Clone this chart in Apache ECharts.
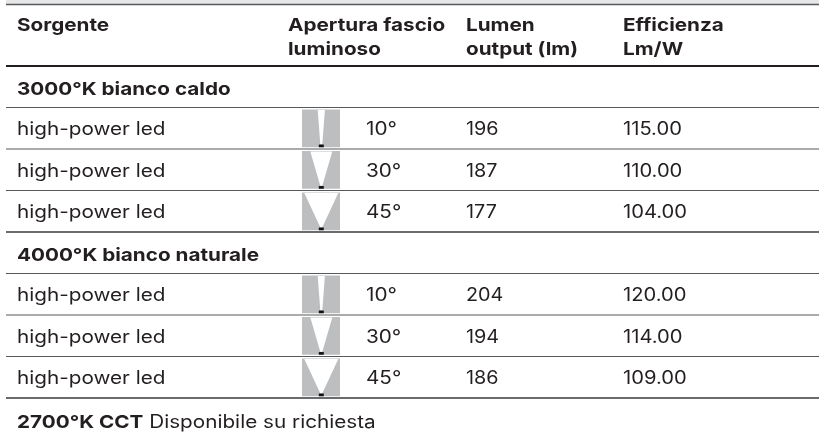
<!DOCTYPE html>
<html><head><meta charset="utf-8">
<style>html,body{margin:0;padding:0;background:#fff}#c{width:819px;height:436px}</style>
<script src="https://cdn.jsdelivr.net/npm/echarts@6/dist/echarts.min.js"></script>
</head><body><div id="c"></div>
<script>
const rowLabels = ['3000°K bianco caldo','high-power led','high-power led','high-power led','4000°K bianco naturale','high-power led','high-power led','high-power led'];
const beamAngles = [null,10,30,45,null,10,30,45];
const lumen = [null,196,187,177,null,204,194,186];
const efficiency = [null,'115.00','110.00','104.00',null,'120.00','114.00','109.00'];
const headers = [['Sorgente'],['Apertura fascio','luminoso'],['Lumen','output (lm)'],['Efficienza','Lm/W']];
const footBold = '2700°K CCT';
const footText = ' Disponibile su richiesta';

const FONT = 'Inter, "DejaVu Sans", sans-serif';
const TEXT = '#231f20';
const colX = {name:17, icon:321.3, angle:366, lumen:466, eff:623};
const FS = 18, SX = 1.15;
const chart = echarts.init(document.getElementById('c'));
const idx = rowLabels.map((_,i)=>i);
function txt(x,y,s,bold,sx){return {type:'text',x:x,y:y,scaleX:sx||SX,style:{x:0,y:0,text:s,fill:TEXT,font:(bold?'700 ':'400 ')+FS+'px '+FONT,textVerticalAlign:'middle',verticalAlign:'middle'}};}
const option = {
  animation:false,
  backgroundColor:'#fff',
  grid:{left:0,right:0,top:66,height:332},
  xAxis:{type:'value',min:0,max:819,show:false},
  yAxis:{type:'category',inverse:true,data:idx,show:false},
  graphic:[
    {type:'rect',shape:{x:6,y:0,width:813,height:4},style:{fill:'#e6e7e8'}},
    {type:'line',shape:{x1:6,y1:4.5,x2:819,y2:4.5},style:{stroke:'#58595b',lineWidth:1.4}},
    {type:'line',shape:{x1:6,y1:66,x2:819,y2:66},style:{stroke:TEXT,lineWidth:2}},
    ...headers.flatMap((h,i)=>h.map((s,j)=>txt([colX.name,288,466,623][i],25.7+j*24,s,true))),
    {type:'text',x:colX.name,y:422.5,scaleX:SX,style:{x:0,y:0,text:'{b|'+footBold+'}{r|'+footText+'}',rich:{b:{font:'700 '+FS+'px '+FONT,fill:TEXT},r:{font:'400 '+FS+'px '+FONT,fill:TEXT}},verticalAlign:'middle'}}
  ],
  series:[{
    type:'custom',
    silent:true,
    clip:false,
    data:idx.map(i=>[i]),
    encode:{x:[],y:0},
    renderItem(p,api){
      const i=api.value(0);
      const size=api.size([0,1])[1];
      const yc=api.coord([0,i])[1];
      const x0=api.coord([0,i])[0];
      const bottom=yc+size/2;
      const X=v=>x0+v;
      const ch=[];
      const heavy=i===7||i===3;
      ch.push({type:'line',shape:{x1:6,y1:bottom,x2:819,y2:bottom},style:{stroke:heavy?'#3a3a3c':'#58595b',lineWidth:heavy?1.6:1.2}});
      const ang=beamAngles[i];
      if(ang==null){
        ch.push(txt(X(colX.name),yc+2.5,rowLabels[i],true));
      }else{
        ch.push(txt(X(colX.name),yc+1.7,rowLabels[i],false));
        const t=yc-18.7,b=yc+19;
        ch.push({type:'rect',shape:{x:X(302),y:t,width:38,height:b-t},style:{fill:'#bcbec0'}});
        const hw=Math.tan(ang/2*Math.PI/180)*41;
        ch.push({type:'polygon',shape:{points:[[X(colX.icon)-hw,t+0.5],[X(colX.icon)+hw,t+0.5],[X(colX.icon)+1,b-3],[X(colX.icon)-1,b-3]]},style:{fill:'#fff'}});
        ch.push({type:'rect',shape:{x:X(colX.icon)-2.5,y:b-2.7,width:5,height:2.7},style:{fill:'#111'}});
        ch.push(txt(X(colX.angle),yc+1.7,ang+'°',false));
        ch.push(txt(X(colX.lumen),yc+1.7,String(lumen[i]),false,1.1));
        ch.push(txt(X(colX.eff),yc+1.7,efficiency[i],false,1.12));
      }
      return {type:'group',children:ch};
    }
  }]
};
chart.setOption(option);
</script></body></html>
